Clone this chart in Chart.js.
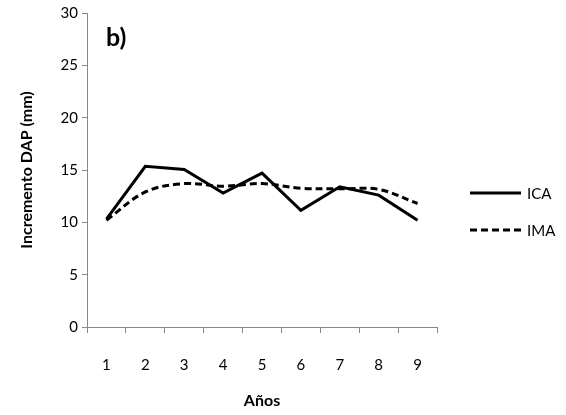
<!DOCTYPE html>
<html>
<head>
<meta charset="utf-8">
<script src="https://cdn.jsdelivr.net/npm/chart.js@4"></script>
<style>
  html, body { margin: 0; padding: 0; background: #fff; }
  #wrap { width: 566px; height: 415px; position: relative; }
</style>
</head>
<body>
<div id="wrap"><canvas id="chart"></canvas></div>
<script>
const years = ['1', '2', '3', '4', '5', '6', '7', '8', '9'];
const icaValues = [10.3, 15.35, 15.05, 12.8, 14.7, 11.15, 13.4, 12.6, 10.2];
const imaValues = [10.2, 12.9, 13.7, 13.45, 13.7, 13.25, 13.2, 13.15, 11.8];
const seriesNames = ['ICA', 'IMA'];
const yTicks = [0, 5, 10, 15, 20, 25, 30];
const panelLabel = 'b)';

const FONT = 'Lato, "Open Sans", sans-serif';
const AXIS_GRAY = '#888888';

// legend + panel label drawn by hand, Excel style
const extras = {
  id: 'extras',
  afterDraw(chart) {
    const ctx = chart.ctx;
    ctx.save();
    ctx.fillStyle = '#000';
    ctx.font = 'bold 25px ' + FONT;
    ctx.textBaseline = 'middle';
    ctx.fillText(panelLabel, 106, 38);

    const rows = [
      { name: seriesNames[0], y: 193, dash: [] },
      { name: seriesNames[1], y: 230, dash: [7, 4] }
    ];
    rows.forEach(r => {
      ctx.strokeStyle = '#000';
      ctx.lineWidth = 3;
      ctx.setLineDash(r.dash);
      ctx.beginPath();
      ctx.moveTo(470, r.y);
      ctx.lineTo(521, r.y);
      ctx.stroke();
      ctx.setLineDash([]);
      ctx.font = '15px ' + FONT;
      ctx.fillText(r.name, 527, r.y + 1);
    });
    ctx.restore();
  }
};

new Chart(document.getElementById('chart'), {
  type: 'line',
  data: {
    labels: years,
    datasets: [
      {
        label: seriesNames[0],
        data: icaValues,
        borderColor: '#000',
        borderWidth: 3,
        pointRadius: 0,
        tension: 0,
        fill: false
      },
      {
        label: seriesNames[1],
        data: imaValues,
        borderColor: '#000',
        borderWidth: 3,
        borderDash: [7, 4],
        pointRadius: 0,
        tension: 0.35,
        fill: false
      }
    ]
  },
  options: {
    responsive: true,
    maintainAspectRatio: false,
    animation: false,
    layout: { padding: { left: 0, top: 12, right: 129, bottom: 0 } },
    plugins: {
      legend: { display: false },
      tooltip: { enabled: false }
    },
    scales: {
      x: {
        offset: true,
        grid: { offset: true, drawOnChartArea: false, drawTicks: true, tickLength: 6, color: AXIS_GRAY },
        border: { color: AXIS_GRAY, width: 1 },
        ticks: { color: '#000', font: { family: FONT, size: 15 }, padding: 23 },
        title: { display: true, text: 'Años', color: '#000', font: { family: FONT, size: 16, weight: 'bold' }, padding: { top: 0, bottom: 5 } },
        afterFit: s => { s.height = 88; }
      },
      y: {
        min: 0,
        max: 30,
        afterBuildTicks: s => { s.ticks = yTicks.map(v => ({ value: v })); },
        grid: { drawOnChartArea: false, drawTicks: true, tickLength: 5, color: AXIS_GRAY },
        border: { color: AXIS_GRAY, width: 1 },
        ticks: { color: '#000', font: { family: FONT, size: 15 }, padding: 4 },
        title: { display: true, text: 'Incremento DAP (mm)', color: '#000', font: { family: FONT, size: 16, weight: 'bold' }, padding: { top: 17, bottom: 0 } },
        afterFit: s => { s.width = 87; }
      }
    }
  },
  plugins: [extras]
});
</script>
</body>
</html>
